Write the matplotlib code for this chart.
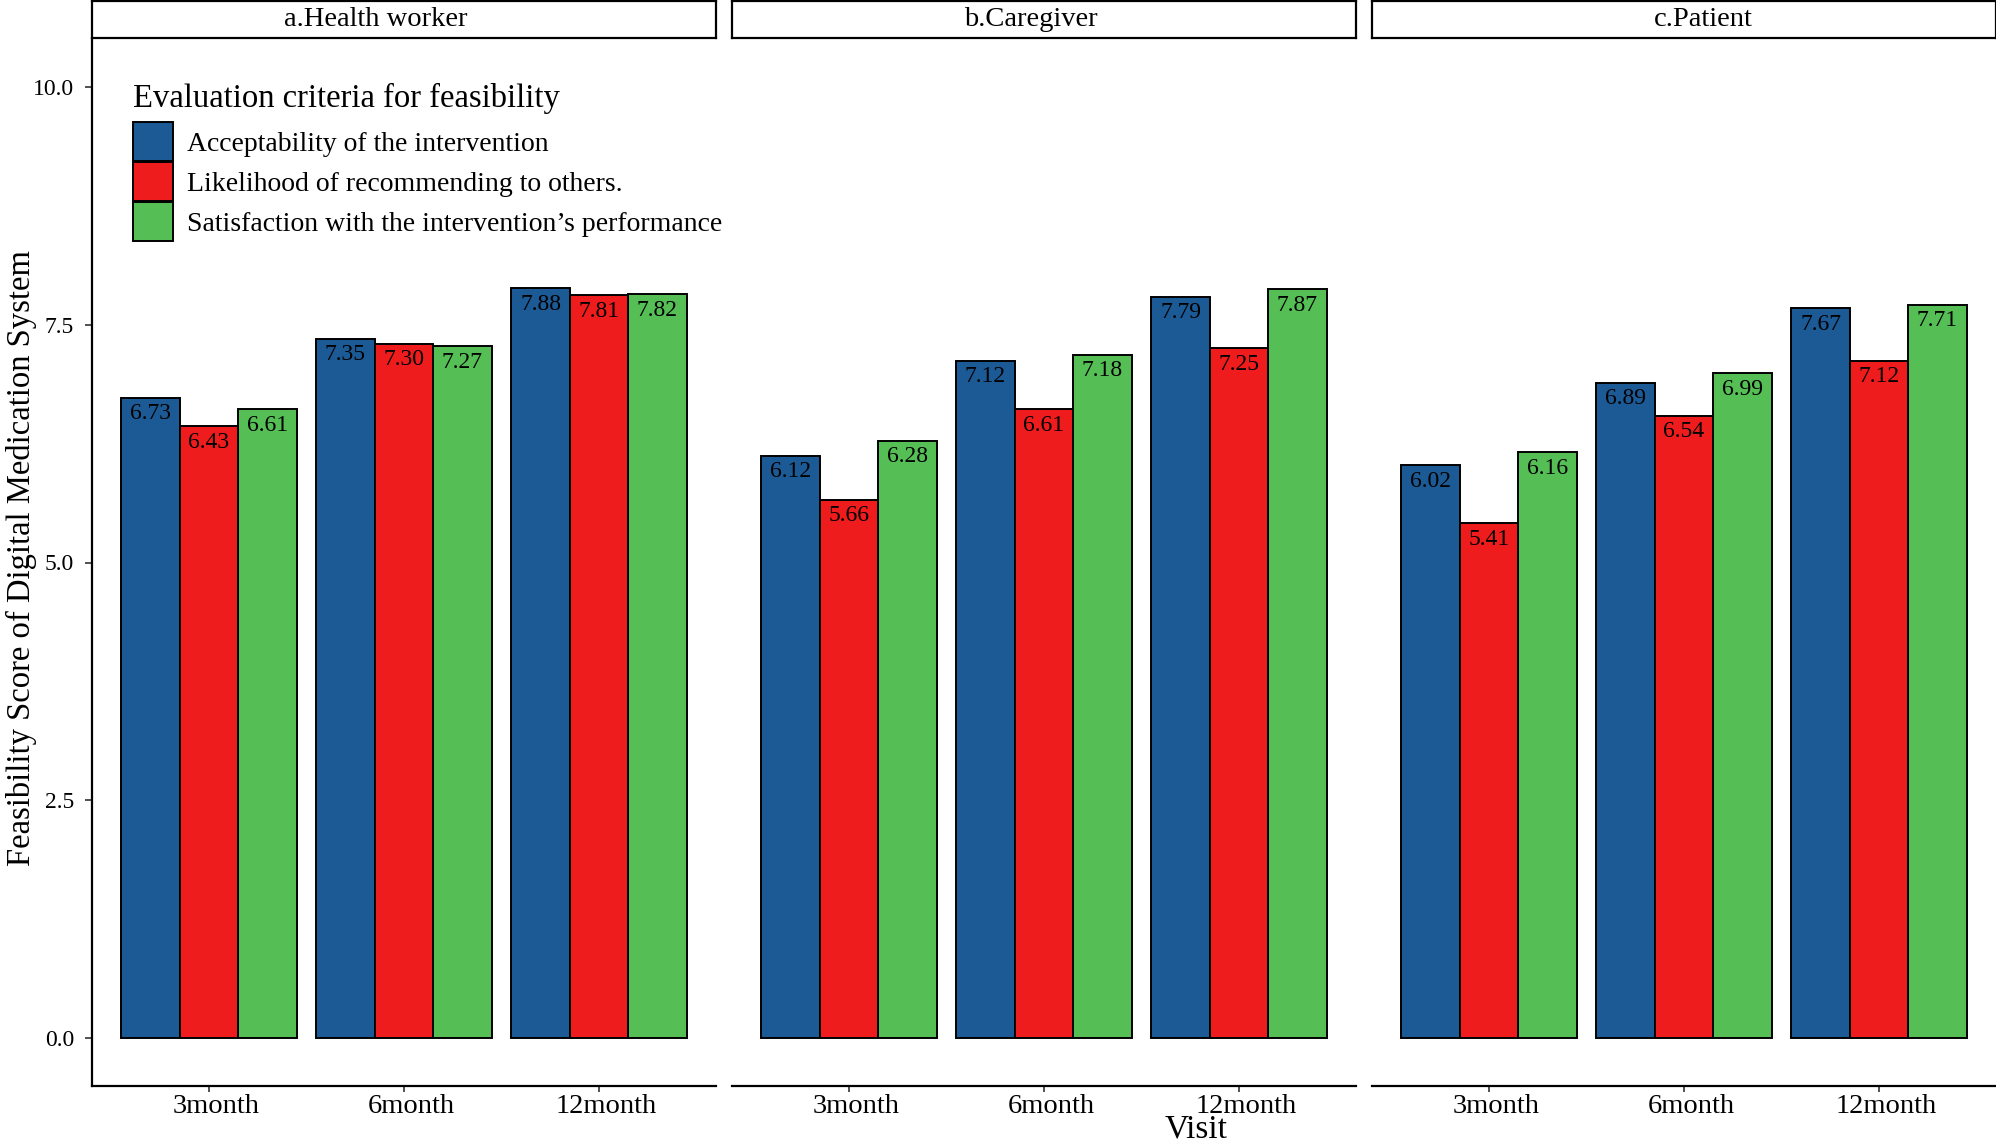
import matplotlib
matplotlib.use('Agg')
import matplotlib.pyplot as plt
import numpy as np

plt.rcParams['font.family'] = ['Liberation Serif', 'DejaVu Serif']

# data
panels = ['a.Health worker', 'b.Caregiver', 'c.Patient']
visits = ['3month', '6month', '12month']
criteria = ['Acceptability of the intervention',
            'Likelihood of recommending to others.',
            'Satisfaction with the intervention\u2019s performance']
colors = ['#1C5A96', '#EE1C1C', '#55BE55']

health_worker = [[6.73, 7.35, 7.88],   # acceptability
                 [6.43, 7.30, 7.81],   # likelihood
                 [6.61, 7.27, 7.82]]   # satisfaction
caregiver = [[6.12, 7.12, 7.79],
             [5.66, 6.61, 7.25],
             [6.28, 7.18, 7.87]]
patient = [[6.02, 6.89, 7.67],
           [5.41, 6.54, 7.12],
           [6.16, 6.99, 7.71]]
panel_values = [health_worker, caregiver, patient]

W, H = 1996, 1144
fig = plt.figure(figsize=(W / 100, H / 100), dpi=100)

lefts = [92, 732, 1372]
pw = 624
ax_top, ax_bot = 39, 1086
strip_top, strip_bot = 1, 38
strip_text_x = [376, 1031, 1703]   # strip titles sit a bit off centre in the reference

x = np.arange(1, len(visits) + 1)
bw = 0.3
axes = []
for i, (name, vals) in enumerate(zip(panels, panel_values)):
    ax = fig.add_axes([lefts[i] / W, 1 - ax_bot / H, pw / W, (ax_bot - ax_top) / H])
    axes.append(ax)
    for j, (crit, col) in enumerate(zip(criteria, colors)):
        pos = x + (j - 1) * bw
        ax.bar(pos, vals[j], width=bw, color=col, edgecolor='black',
               linewidth=1.4, label=crit)
        for p, v in zip(pos, vals[j]):
            ax.annotate('%.2f' % v, (p, v), xytext=(0, -11.5), textcoords='offset points',
                        ha='center', va='center', fontsize=17)
    ax.set_xlim(0.4, 3.6)
    ax.set_ylim(-0.5, 10.5)
    ax.set_xticks(x)
    ax.tick_params(axis='x', length=4, width=1.2, labelbottom=False, color='#333333')
    # tick labels drawn by hand: in the reference they sit a few px right of the tick
    for xi, lab in zip(x, visits):
        ax.annotate(lab, (xi, 0), xycoords=ax.get_xaxis_transform(),
                    xytext=(5, -5.5), textcoords='offset points',
                    ha='center', va='top', fontsize=20.5, annotation_clip=False)
    ax.spines['top'].set_visible(False)
    ax.spines['right'].set_visible(False)
    ax.spines['bottom'].set_linewidth(1.6)
    ax.spines['left'].set_linewidth(1.6)
    ax.set_yticks([0, 2.5, 5, 7.5, 10])
    if i == 0:
        ax.set_yticklabels(['0.0', '2.5', '5.0', '7.5', '10.0'], fontsize=17)
        ax.tick_params(axis='y', length=5, width=1.2, pad=8, color='#333333')
    else:
        ax.spines['left'].set_visible(False)
        ax.tick_params(axis='y', left=False, labelleft=False)

    # strip
    sx = fig.add_axes([lefts[i] / W, 1 - strip_bot / H, pw / W, (strip_bot - strip_top) / H])
    sx.set_xticks([])
    sx.set_yticks([])
    for s in sx.spines.values():
        s.set_linewidth(1.6)
    fig.text(strip_text_x[i] / W, 1 - 19.5 / H, name, ha='center', va='center', fontsize=20.5)

leg = axes[0].legend(loc='upper left', bbox_to_anchor=(0.0657, 0.958), frameon=False,
                     title='Evaluation criteria for feasibility', title_fontsize=23.5,
                     fontsize=20, handlelength=1.44, handleheight=1.78,
                     handletextpad=0.5, labelspacing=0.04, borderpad=0,
                     borderaxespad=0, alignment='left')
leg._legend_box.sep = 6

fig.text(21 / W, 1 - 558 / H, 'Feasibility Score of Digital Medication System',
         rotation=90, ha='center', va='center', fontsize=23.5)
fig.text(1196 / W, 1 - 1129 / H, 'Visit', ha='center', va='center', fontsize=24)

fig.savefig('out.png', dpi=100)
